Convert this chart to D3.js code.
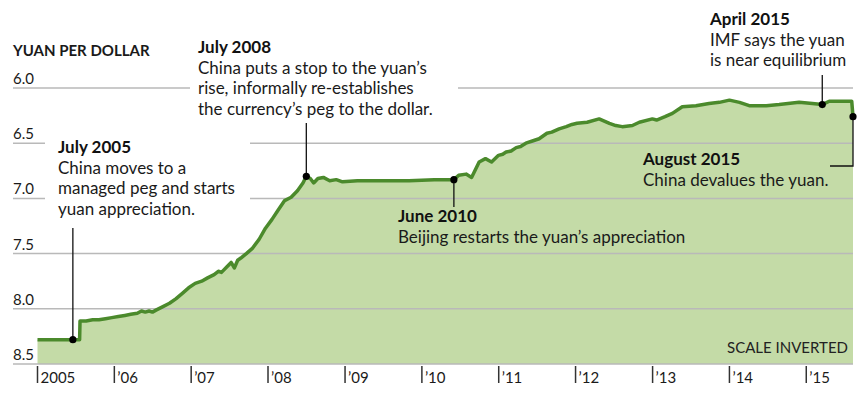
<!DOCTYPE html>
<html>
<head>
<meta charset="utf-8">
<script src="https://cdn.jsdelivr.net/npm/d3@7"></script>
<style>
body { margin: 0; background: #fff; }
svg { display: block; font-family: Lato, sans-serif; }
</style>
</head>
<body>
<svg width="866" height="397"></svg>
<script>
// yuan per dollar (scale inverted)
var dates = [
    "2005-01-01","2005-07-20","2005-07-22","2005-08-20","2005-09-20","2005-10-20","2005-11-20","2005-12-20",
    "2006-01-20","2006-02-20","2006-03-20","2006-04-20","2006-05-10","2006-05-28","2006-06-15","2006-07-01",
    "2006-07-20","2006-08-20","2006-09-20","2006-10-20","2006-11-20","2006-12-20",
    "2007-01-20","2007-02-20","2007-03-20","2007-04-20","2007-05-10","2007-05-25","2007-06-20","2007-07-10",
    "2007-07-25","2007-08-10","2007-08-25","2007-09-20","2007-10-20","2007-11-20","2007-12-20",
    "2008-01-20","2008-02-20","2008-03-20","2008-04-20","2008-05-20","2008-06-15","2008-07-01","2008-07-20",
    "2008-08-05","2008-08-25","2008-09-20","2008-10-20","2008-11-20","2008-12-20",
    "2009-03-01","2009-07-01","2009-11-01","2010-03-01","2010-06-02","2010-06-25","2010-07-30","2010-08-25",
    "2010-09-30","2010-10-30","2010-11-28","2010-12-31",
    "2011-01-20","2011-02-05","2011-03-01","2011-03-25","2011-04-15","2011-05-10","2011-06-10","2011-07-12",
    "2011-08-18","2011-09-10","2011-10-15","2011-11-18","2011-12-15",
    "2012-01-08","2012-02-25","2012-04-22","2012-06-10","2012-07-10","2012-08-10","2012-09-27","2012-10-30","2012-12-31",
    "2013-01-20","2013-03-01","2013-04-05","2013-05-22","2013-07-26","2013-09-26","2013-11-14",
    "2014-01-01","2014-02-18","2014-04-05","2014-06-25","2014-08-25","2014-11-28",
    "2015-01-30","2015-03-18","2015-04-20","2015-06-10","2015-08-05","2015-08-11"
];
var yuan = [
    8.28,8.28,8.11,8.11,8.10,8.10,8.09,8.08,
    8.07,8.06,8.05,8.04,8.02,8.03,8.02,8.03,
    8.01,7.98,7.95,7.91,7.86,7.81,
    7.77,7.75,7.72,7.69,7.66,7.67,7.62,7.58,
    7.63,7.56,7.54,7.50,7.45,7.37,7.27,
    7.19,7.10,7.02,6.99,6.93,6.86,6.80,6.82,
    6.86,6.82,6.81,6.84,6.83,6.85,
    6.84,6.84,6.84,6.83,6.83,6.79,6.78,6.81,
    6.67,6.64,6.67,6.61,
    6.60,6.58,6.57,6.54,6.53,6.50,6.48,6.46,
    6.41,6.40,6.37,6.35,6.33,
    6.32,6.31,6.28,6.32,6.34,6.35,6.34,6.31,6.28,
    6.29,6.26,6.23,6.17,6.16,6.14,6.13,
    6.11,6.13,6.16,6.16,6.15,6.13,
    6.14,6.15,6.12,6.12,6.12,6.26
];
var yTicks = [6.0, 6.5, 7.0, 7.5, 8.0, 8.5];
var xTickYears = [2005, 2006, 2007, 2008, 2009, 2010, 2011, 2012, 2013, 2014, 2015];
var xTickLabels = ["2005", "\u201906", "\u201907", "\u201908", "\u201909", "\u201910", "\u201911", "\u201912", "\u201913", "\u201914", "\u201915"];

var noteDates = ["2005-06-18", "2008-07-01", "2010-06-02", "2015-03-18", "2015-08-11"];
var noteHeads = ["July 2005", "July 2008", "June 2010", "April 2015", "August 2015"];
var noteLines = [
    ["China moves to a", "managed peg and starts", "yuan appreciation."],
    ["China puts a stop to the yuan\u2019s", "rise, informally re-establishes", "the currency\u2019s peg to the dollar."],
    ["Beijing restarts the yuan\u2019s appreciation"],
    ["IMF says the yuan", "is near equilibrium"],
    ["China devalues the yuan."]
];

var parse = d3.timeParse("%Y-%m-%d");
var data = dates.map(function (d, i) { return { date: parse(d), v: yuan[i] }; });

var svg = d3.select("svg");
var margin = {top: 88, right: 13, bottom: 33, left: 37.5};
var width = +svg.attr("width") - margin.left - margin.right;
var height = +svg.attr("height") - margin.top - margin.bottom;

var x = d3.scaleTime()
    .domain([data[0].date, data[data.length - 1].date])
    .range([margin.left, margin.left + width]);
// inverted: 6.0 on top
var y = d3.scaleLinear()
    .domain([6.0, 8.5])
    .range([margin.top, margin.top + height]);

var ink = "#1a1a1a";
var green = "#4b8a2c";

var area = d3.area()
    .x(function (d) { return x(d.date); })
    .y0(y(8.5))
    .y1(function (d) { return y(d.v); });
var line = d3.line()
    .x(function (d) { return x(d.date); })
    .y(function (d) { return y(d.v); });

svg.append("path").datum(data)
    .attr("d", area)
    .attr("fill", "#c4dba7");

// gridlines sit on top of the fill
var grid = svg.append("g");
grid.selectAll("line").data(yTicks).enter().append("line")
    .attr("x1", 13).attr("x2", x.range()[1])
    .attr("y1", function (d) { return y(d); })
    .attr("y2", function (d) { return y(d); })
    .attr("stroke", "#b9b9b9")
    .attr("stroke-width", 1.5);
grid.selectAll("text").data(yTicks).enter().append("text")
    .attr("x", 13)
    .attr("y", function (d) { return y(d) - 4; })
    .attr("font-size", 15)
    .attr("fill", ink)
    .text(function (d) { return d.toFixed(1); });

svg.append("text")
    .attr("x", 13).attr("y", 56)
    .attr("font-size", 15).attr("font-weight", 700)
    .attr("fill", ink)
    .text("YUAN PER DOLLAR");

svg.append("path").datum(data)
    .attr("d", line)
    .attr("fill", "none")
    .attr("stroke", green)
    .attr("stroke-width", 3.5)
    .attr("stroke-linejoin", "round");

// x axis: tick mark with label to its right
var xt = svg.append("g").selectAll("g")
    .data(xTickYears).enter().append("g")
    .attr("transform", function (d) { return "translate(" + x(new Date(d, 0, 1)) + ",0)"; });
xt.append("line")
    .attr("y1", y(8.5) + 2).attr("y2", y(8.5) + 19)
    .attr("stroke", "#333").attr("stroke-width", 1.5);
xt.append("text")
    .attr("x", 3).attr("y", y(8.5) + 19)
    .attr("font-size", 15)
    .attr("fill", ink)
    .text(function (d, i) { return xTickLabels[i]; });

svg.append("text")
    .attr("x", x.range()[1] - 5).attr("y", y(8.5) - 11)
    .attr("text-anchor", "end")
    .attr("font-size", 15)
    .attr("fill", "#222")
    .text("SCALE INVERTED");

// annotations
var noteX = [58, 198, 398, 710, 643];
var noteY = [153, 53, 222, 25, 165];
var lh = 20.5;
var boxes = [[45, 133, 205, 88], [190, 36, 268, 86], null, null, null];

noteHeads.forEach(function (h, i) {
    var g = svg.append("g");
    if (boxes[i]) {
        g.append("rect")
            .attr("x", boxes[i][0]).attr("y", boxes[i][1])
            .attr("width", boxes[i][2]).attr("height", boxes[i][3])
            .attr("fill", "#fff");
    }
    g.append("text")
        .attr("x", noteX[i]).attr("y", noteY[i])
        .attr("font-size", 17).attr("font-weight", 700)
        .attr("fill", "#111")
        .text(h);
    noteLines[i].forEach(function (t, j) {
        g.append("text")
            .attr("x", noteX[i]).attr("y", noteY[i] + lh * (j + 1))
            .attr("font-size", 17)
            .attr("fill", ink)
            .text(t);
    });
});

// callout leaders
var pts = noteDates.map(function (d) {
    var dt = parse(d);
    var i = d3.bisector(function (e) { return e.date; }).left(data, dt);
    i = Math.min(i, data.length - 1);
    var v = data[i].date > dt && i > 0 ? data[i - 1].v : data[i].v;
    if (d === "2015-08-11") v = data[data.length - 1].v;
    return [x(dt), y(v)];
});
var leaders = [
    [[pts[0][0], 228], pts[0]],
    [[pts[1][0], 123], pts[1]],
    [pts[2], [pts[2][0], 207]],
    [[pts[3][0], 75], pts[3]],
    [pts[4], [pts[4][0], 166], [830, 166]]
];
svg.append("g").selectAll("path").data(leaders).enter().append("path")
    .attr("d", function (d) { return d3.line()(d); })
    .attr("fill", "none")
    .attr("stroke", "#111")
    .attr("stroke-width", 1.3);
svg.append("g").selectAll("circle").data(pts).enter().append("circle")
    .attr("cx", function (d) { return d[0]; })
    .attr("cy", function (d) { return d[1]; })
    .attr("r", 3.6)
    .attr("fill", "#000");
</script>
</body>
</html>
